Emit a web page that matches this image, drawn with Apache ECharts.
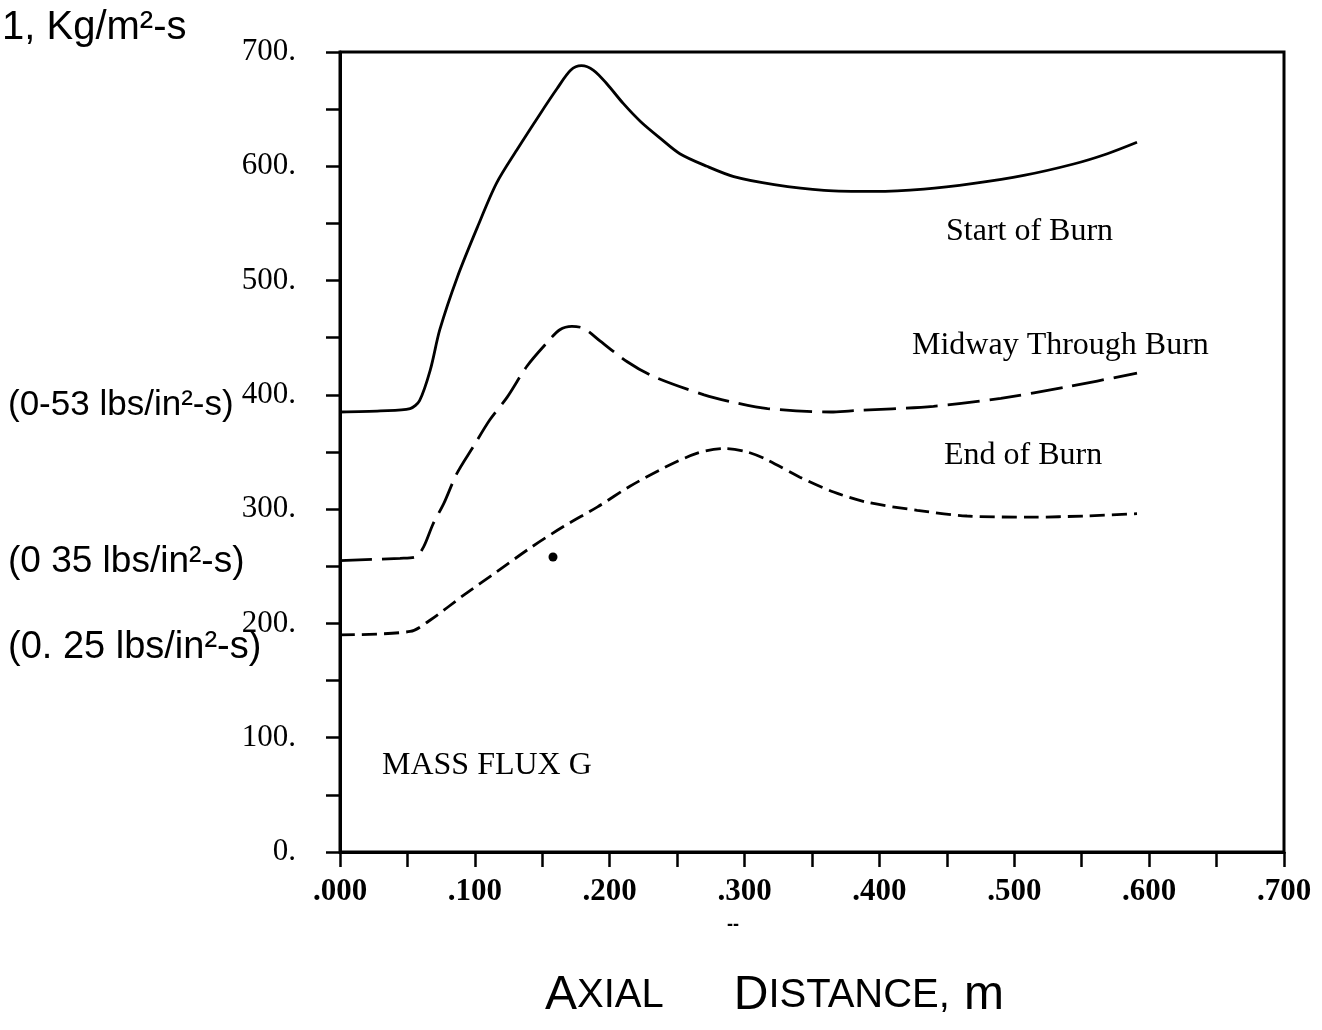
<!DOCTYPE html>
<html><head><meta charset="utf-8">
<script src="https://cdn.jsdelivr.net/npm/echarts@6/dist/echarts.min.js"></script>
<style>html,body{margin:0;padding:0;background:#fff}#c{width:1322px;height:1030px}</style>
</head><body><div id="c"></div>
<script>
// Axial distance (m) and mass flux G (kg/m^2-s)
const xStart = [0, 0.030, 0.052, 0.059, 0.067, 0.074, 0.087, 0.102, 0.116, 0.131, 0.1485, 0.161, 0.171, 0.179, 0.188, 0.198, 0.210, 0.223, 0.238, 0.252, 0.272, 0.292, 0.322, 0.359, 0.396, 0.433, 0.470, 0.507, 0.544, 0.569, 0.591];
const yStart = [385, 386, 388, 395, 422, 457, 503, 547, 585, 614, 646, 668, 684, 688, 684, 672, 655, 639, 624, 611, 600, 591, 584, 579, 578, 580, 585, 592, 602, 611, 621];
const xMid = [0, 0.0445, 0.0557, 0.062, 0.069, 0.077, 0.0866, 0.099, 0.111, 0.124, 0.1386, 0.153, 0.163, 0.172, 0.181, 0.193, 0.213, 0.2326, 0.270, 0.290, 0.317, 0.364, 0.379, 0.440, 0.490, 0.539, 0.591];
const yMid = [255, 257, 258, 267, 287, 305, 331, 355, 378, 398, 425, 445, 457, 460, 458, 447, 429, 416, 400, 394, 388, 385, 386, 390, 397, 407, 419];
const xEnd = [0, 0.052, 0.067, 0.092, 0.116, 0.141, 0.166, 0.191, 0.215, 0.240, 0.265, 0.285, 0.302, 0.317, 0.341, 0.366, 0.391, 0.428, 0.465, 0.514, 0.552, 0.591];
const yEnd = [190, 193, 203, 225, 245, 266, 285, 302, 320, 336, 349, 353, 350, 343, 328, 315, 306, 299, 294, 293, 294, 296];
const seriesNames = ['Start of Burn', 'Midway Through Burn', 'End of Burn'];
const panelLabel = 'MASS FLUX G';
const yUnitNote = '1, Kg/m²-s';
const yNotes = ['(0-53 lbs/in²-s)', '(0 35 lbs/in²-s)', '(0. 25 lbs/in²-s)'];

const zip = (xs, ys) => xs.map((x, i) => [x, ys[i]]);
const chart = echarts.init(document.getElementById('c'));
const serif = '"Liberation Serif", "Times New Roman", serif';
const hand = '"Liberation Sans", "DejaVu Sans", sans-serif';
const lineCommon = { type: 'line', smooth: 0.3, showSymbol: false, silent: true };

chart.setOption({
  backgroundColor: '#fff',
  animation: false,
  grid: { left: 340, right: 38, top: 52, bottom: 178, show: true, borderColor: '#000', borderWidth: 3, backgroundColor: 'transparent' },
  xAxis: {
    type: 'value', min: 0, max: 0.7, interval: 0.05,
    axisLine: { show: true, onZero: false, lineStyle: { color: '#000', width: 3 } },
    axisTick: { show: true, inside: false, length: 15, lineStyle: { color: '#000', width: 2.5 } },
    splitLine: { show: false },
    axisLabel: {
      margin: 24, color: '#000', fontFamily: serif, fontSize: 31, fontWeight: 'bold',
      formatter: v => { const m = Math.round(v * 1000); return m % 100 === 0 ? '.' + String(m).padStart(3, '0') : ''; }
    }
  },
  yAxis: {
    type: 'value', min: 0, max: 700, interval: 50,
    axisLine: { show: true, lineStyle: { color: '#000', width: 3 } },
    axisTick: { show: true, inside: false, length: 14, lineStyle: { color: '#000', width: 2.5 } },
    splitLine: { show: false },
    axisLabel: {
      margin: 44, color: '#000', fontFamily: serif, fontSize: 31,
      formatter: v => (Math.round(v) % 100 === 0 ? Math.round(v) + '.' : '')
    }
  },
  series: [
    Object.assign({ name: seriesNames[0], data: zip(xStart, yStart), lineStyle: { color: '#000', width: 2.8, type: 'solid' } }, lineCommon),
    Object.assign({ name: seriesNames[1], data: zip(xMid, yMid), lineStyle: { color: '#000', width: 2.8, type: [32, 10] } }, lineCommon),
    Object.assign({ name: seriesNames[2], data: zip(xEnd, yEnd), lineStyle: { color: '#000', width: 2.8, type: [15, 7] } }, lineCommon)
  ],
  graphic: [
    { type: 'text', left: 946, top: 216, style: { text: seriesNames[0], font: '32px ' + serif, fill: '#000' } },
    { type: 'text', left: 912, top: 330, style: { text: seriesNames[1], font: '32px ' + serif, fill: '#000' } },
    { type: 'text', left: 944, top: 440, style: { text: seriesNames[2], font: '32px ' + serif, fill: '#000' } },
    { type: 'text', left: 382, top: 750, style: { text: panelLabel, font: '32px ' + serif, fill: '#000' } },
    { type: 'text', left: 2, top: 8, style: { text: yUnitNote, font: '40px ' + hand, fill: '#000' } },
    { type: 'text', left: 8, top: 388, style: { text: yNotes[0], font: '35px ' + hand, fill: '#000' } },
    { type: 'text', left: 8, top: 543, style: { text: yNotes[1], font: '37px ' + hand, fill: '#000' } },
    { type: 'text', left: 8, top: 629, style: { text: yNotes[2], font: '38px ' + hand, fill: '#000' } },
    { type: 'text', left: 727, top: 916, style: { text: '--', font: 'bold 18px ' + hand, fill: '#000' } },
    { type: 'circle', shape: { cx: 553, cy: 557, r: 4.5 }, style: { fill: '#000' } },
    { type: 'text', left: 545, top: 972, style: {
        text: '{b|A}{s|XIAL}{g1| }{b|D}{s|ISTANCE,}{g2| }{b|m}',
        rich: {
          b: { fontFamily: hand, fontSize: 48, fill: '#000' },
          s: { fontFamily: hand, fontSize: 40, fill: '#000' },
          g1: { fontSize: 10, width: 70 },
          g2: { fontSize: 10, width: 14 }
        }
      } }
  ]
});
</script></body></html>
